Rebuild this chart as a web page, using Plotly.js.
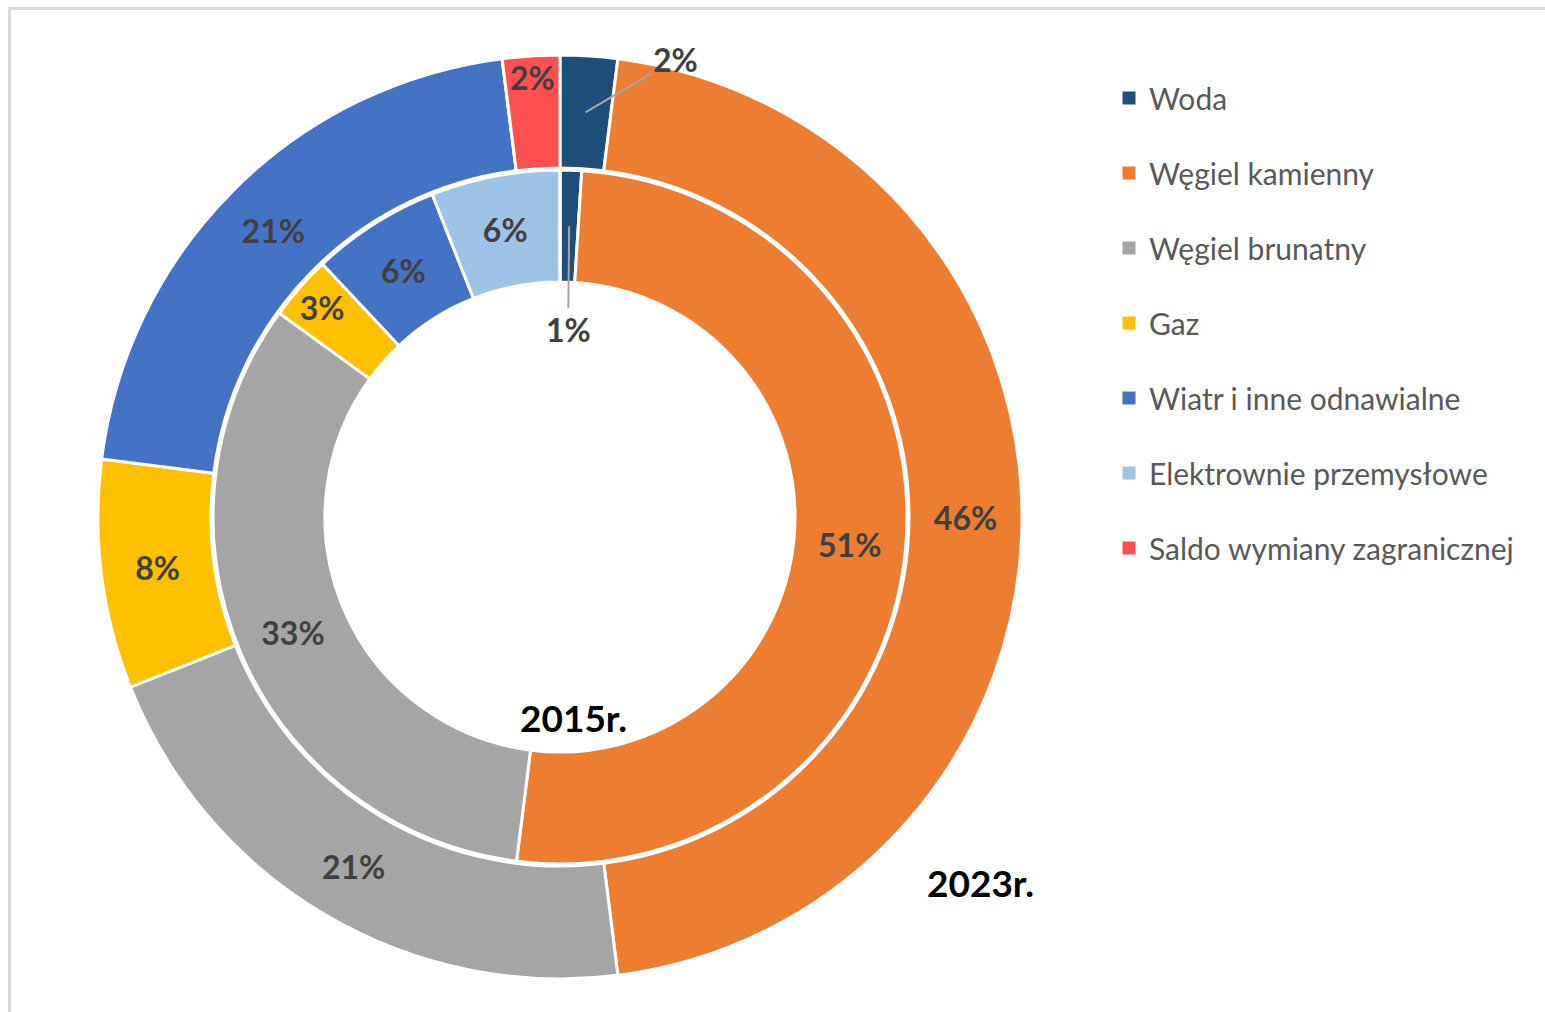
<!DOCTYPE html>
<html>
<head>
<meta charset="utf-8">
<script src="https://cdn.plot.ly/plotly-3.0.1.min.js"></script>
<style>html,body{margin:0;padding:0;background:#fff;}#chart{width:1545px;height:1012px;}</style>
</head>
<body>
<div id="chart"></div>
<script>
// ---- data ----
const categories = ['Woda', 'Węgiel kamienny', 'Węgiel brunatny', 'Gaz', 'Wiatr i inne odnawialne', 'Elektrownie przemysłowe', 'Saldo wymiany zagranicznej'];
const share2015 = [1, 51, 33, 3, 6, 6, 0];
const share2023 = [2, 46, 21, 8, 21, 0, 2];
const yearLabels = ['2015r.', '2023r.'];

// ---- styles ----
const colors = ['#1F4E79', '#ED7D31', '#A5A5A5', '#FFC000', '#4472C4', '#9DC3E6', '#FF5050'];
const W = 1545, H = 1012;
const CX = 560, CY = 517;          // pie centre (px from top-left)
const R_OUT = 462, R_IN = 347;      // outer radii of the two rings
const HOLE_OUT = 349 / 462, HOLE_IN = 235 / 347;
const FONT = 'Lato, "Open Sans", sans-serif';
const LABEL_COLOR = '#404040';
const LABEL_SIZE = 32;

function domainFor(r) {
  return {
    x: [(CX - r) / W, (CX + r) / W],
    y: [(H - CY - r) / H, (H - CY + r) / H]
  };
}
function pctText(vals, skip) {
  const tot = vals.reduce((a, b) => a + b, 0);
  return vals.map((v, i) => (v > 0 && skip.indexOf(i) < 0) ? Math.round(v / tot * 100) + '%' : '');
}
// point at middle of slice idx, at radius r (px), returned in paper coords
function slicePoint(vals, idx, r) {
  const tot = vals.reduce((a, b) => a + b, 0);
  let cum = 0;
  for (let i = 0; i < idx; i++) cum += vals[i];
  const f = (cum + vals[idx] / 2) / tot;
  const th = 2 * Math.PI * f;
  const px = CX + r * Math.sin(th);
  const py = CY - r * Math.cos(th);
  return {x: px / W, y: 1 - py / H, pct: Math.round(vals[idx] / tot * 100) + '%'};
}

const pieCommon = {
  type: 'pie',
  labels: categories,
  sort: false,
  direction: 'clockwise',
  rotation: 0,
  marker: {colors: colors, line: {color: '#FFFFFF', width: 3}},
  textinfo: 'text',
  textposition: 'inside',
  insidetextorientation: 'horizontal',
  textfont: {family: FONT, size: LABEL_SIZE, color: LABEL_COLOR, weight: 'bold'},
  hoverinfo: 'label+percent',
  showlegend: false
};

const outer = Object.assign({}, pieCommon, {
  values: share2023,
  text: pctText(share2023, [0, 6]),
  hole: HOLE_OUT,
  domain: domainFor(R_OUT),
  name: '2023'
});
const inner = Object.assign({}, pieCommon, {
  values: share2015,
  text: pctText(share2015, [0]),
  hole: HOLE_IN,
  domain: domainFor(R_IN),
  name: '2015'
});

// legend entries (one group per category for spacing)
const legendTraces = categories.map((c, i) => ({
  type: 'scatter', mode: 'markers', x: [null], y: [null],
  name: c, legendgroup: 'g' + i,
  marker: {symbol: 'square', size: 13, color: colors[i]},
  hoverinfo: 'skip'
}));

const pOut = slicePoint(share2023, 0, (R_OUT + R_OUT * HOLE_OUT) / 2);
const pIn = slicePoint(share2015, 0, (R_IN + R_IN * HOLE_IN) / 2);
const pSaldo = slicePoint(share2023, 6, 440);
const labelFont = {family: FONT, size: LABEL_SIZE, color: LABEL_COLOR, weight: 'bold'};

const annotations = [
  {xref: 'paper', yref: 'paper', x: pOut.x, y: pOut.y, text: pOut.pct,
   showarrow: true, arrowhead: 0, arrowwidth: 2, arrowcolor: '#A6A6A6', ax: 90, ay: -53,
   font: labelFont},
  {xref: 'paper', yref: 'paper', x: pIn.x, y: pIn.y, text: pIn.pct,
   showarrow: true, arrowhead: 0, arrowwidth: 2, arrowcolor: '#A6A6A6', ax: -1, ay: 103,
   font: labelFont},
  {xref: 'paper', yref: 'paper', x: pSaldo.x, y: pSaldo.y, text: pSaldo.pct, showarrow: false,
   xanchor: 'center', yanchor: 'middle', font: labelFont},
  {xref: 'paper', yref: 'paper', x: 573 / W, y: 1 - 717 / H, text: yearLabels[0], showarrow: false,
   xanchor: 'center', yanchor: 'middle',
   font: {family: FONT, size: 37, color: '#000000', weight: 'bold'}},
  {xref: 'paper', yref: 'paper', x: 980 / W, y: 1 - 882 / H, text: yearLabels[1], showarrow: false,
   xanchor: 'center', yanchor: 'middle',
   font: {family: FONT, size: 37, color: '#000000', weight: 'bold'}}
];

const layout = {
  width: W, height: H,
  margin: {l: 0, r: 0, t: 0, b: 0},
  paper_bgcolor: '#FFFFFF', plot_bgcolor: '#FFFFFF',
  xaxis: {visible: false}, yaxis: {visible: false},
  showlegend: true,
  legend: {
    x: 1109 / W, y: 1 - 72 / H, xanchor: 'left', yanchor: 'top',
    font: {family: FONT, size: 30, color: '#595959'},
    tracegroupgap: 33, bgcolor: 'rgba(0,0,0,0)'
  },
  annotations: annotations,
  shapes: [{type: 'rect', xref: 'paper', yref: 'paper', x0: 9.5 / W, x1: 1.02, y0: -0.02, y1: 1 - 8.5 / H,
            line: {color: '#D9D9D9', width: 3}, layer: 'below'}]
};

Plotly.newPlot('chart', [outer, inner].concat(legendTraces), layout, {displayModeBar: false, staticPlot: true});
</script>
</body>
</html>
